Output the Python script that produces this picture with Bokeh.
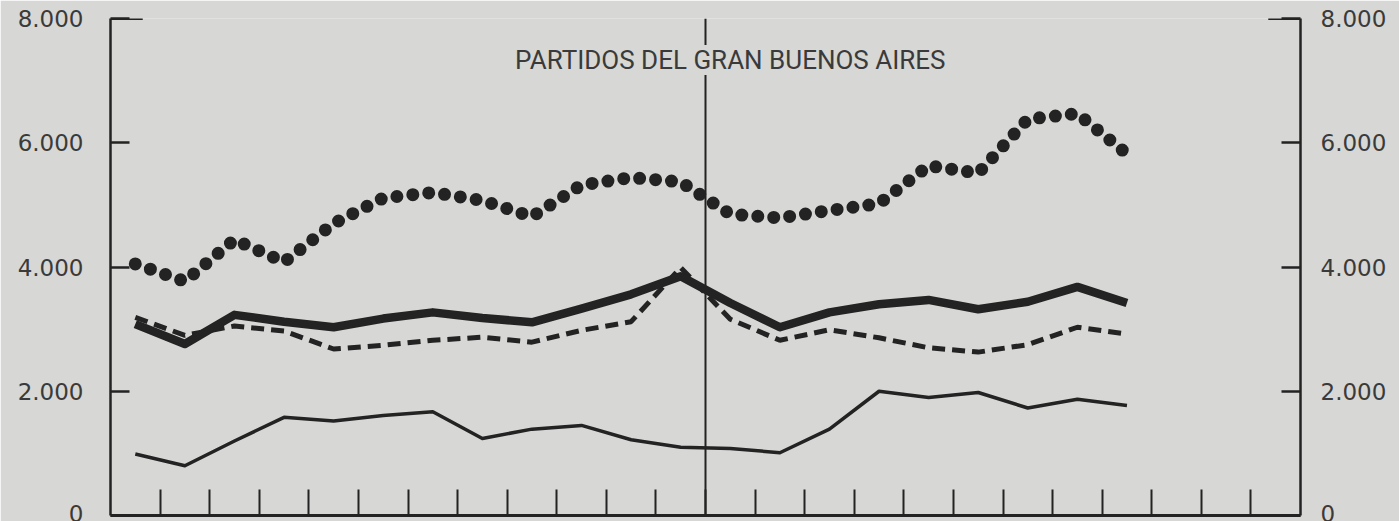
from bokeh.plotting import figure
from bokeh.models import Range1d, LinearAxis, FixedTicker, Span, Label, ColumnDataSource
from bokeh.embed import file_html
from bokeh.resources import INLINE

# ---- data ----
periodos = list(range(21))                       # 21 periods, plotted at the centre of each interval
serie_fina = [990, 800, 1200, 1580, 1520, 1610, 1670, 1240, 1390, 1450, 1220,
              1100, 1080, 1010, 1390, 2000, 1900, 1980, 1730, 1870, 1770]
serie_gruesa = [3080, 2760, 3230, 3120, 3030, 3170, 3270, 3180, 3110, 3330, 3560,
                3850, 3420, 3030, 3270, 3400, 3470, 3320, 3440, 3680, 3420]
serie_trazos = [3190, 2900, 3050, 2970, 2680, 2740, 2820, 2870, 2790, 2980, 3120,
                3990, 3160, 2820, 2990, 2860, 2700, 2630, 2750, 3030, 2920]
serie_puntos = [4050, 3770, 4440, 4080, 4700, 5110, 5200, 5070, 4810, 5320, 5440,
                5370, 4850, 4790, 4910, 5020, 5630, 5510, 6380, 6470, 5820]
y_ticks = [0, 2000, 4000, 6000, 8000]
y_tick_labels = ["0", "2.000", "4.000", "6.000", "8.000"]
n_intervalos = 24
corte = 12
titulo = "PARTIDOS DEL GRAN BUENOS AIRES"

# ---- style ----
BG = "#d7d7d5"
INK = "#232323"
TXT = "#3a3a3a"
FONT = "DejaVu Sans"
TITLE_FONT = "Roboto"

x = [i + 0.5 for i in periodos]
src = ColumnDataSource(dict(x=x, fina=serie_fina, gruesa=serie_gruesa,
                            trazos=serie_trazos, puntos=serie_puntos))

p = figure(width=1399, height=521,
           x_range=Range1d(0, n_intervalos), y_range=Range1d(y_ticks[0], y_ticks[-1]),
           output_backend="svg", toolbar_location=None,
           min_border_left=110, min_border_right=99, min_border_top=18, min_border_bottom=6,
           background_fill_color=BG, border_fill_color=BG, outline_line_color=None)
p.grid.visible = False
p.extra_y_ranges = {"der": Range1d(y_ticks[0], y_ticks[-1])}

# bottom axis: baseline with inward ticks, no labels
xa = p.xaxis[0]
xa.ticker = FixedTicker(ticks=list(range(1, n_intervalos)))
xa.major_label_overrides = {i: "" for i in range(1, n_intervalos)}
xa.major_label_text_font_size = "0px"
xa.major_label_standoff = 0
xa.major_tick_in = 26
xa.major_tick_out = 0
xa.major_tick_line_width = 2
xa.major_tick_line_color = INK
xa.minor_tick_line_color = None
xa.axis_line_width = 3
xa.axis_line_color = INK

def style_y(ax, standoff):
    ax.ticker = FixedTicker(ticks=y_ticks)
    ax.major_label_overrides = dict(zip(y_ticks, y_tick_labels))
    ax.major_label_text_font = FONT
    ax.major_label_text_font_size = "23px"
    ax.major_label_text_color = TXT
    ax.major_label_standoff = standoff
    ax.major_tick_in = 19
    ax.major_tick_out = 0
    ax.major_tick_line_width = 2.5
    ax.major_tick_line_color = INK
    ax.minor_tick_line_color = None
    ax.axis_line_width = 2.5
    ax.axis_line_color = INK

style_y(p.yaxis[0], 27)
ra = LinearAxis(y_range_name="der")
style_y(ra, 20)
p.add_layout(ra, "right")

# vertical divider
p.add_layout(Span(location=corte, dimension="height", line_color=INK,
                  line_width=2, level="underlay"))

# longer top ticks forming the bracket corners
BRACKET = 0.65
p.segment(x0=[0, n_intervalos - BRACKET], y0=[y_ticks[-1]] * 2,
          x1=[BRACKET, n_intervalos], y1=[y_ticks[-1]] * 2,
          line_color=INK, line_width=3)

# series
p.line("x", "fina", source=src, line_color=INK, line_width=3.5, line_join="round")
p.line("x", "trazos", source=src, line_color=INK, line_width=5, line_dash="13 7")
p.line("x", "gruesa", source=src, line_color=INK, line_width=8.5, line_join="round")
p.line("x", "puntos", source=src, line_color=INK, line_width=13,
       line_dash="0 16", line_cap="round")

# title inside the frame
p.add_layout(Label(x=12.5, y=7330, text=titulo, text_align="center",
                   text_baseline="middle", text_font=TITLE_FONT,
                   text_font_size="26px", text_color=TXT,
                   background_fill_color=BG))

open("out.html", "w").write(file_html(p, INLINE))
